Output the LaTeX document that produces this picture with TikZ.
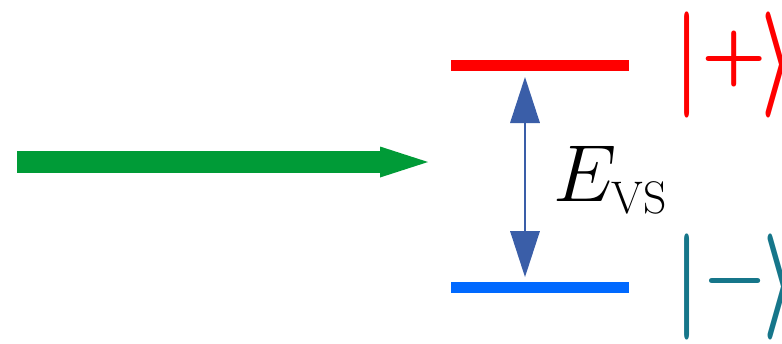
\RequirePackage{fix-cm}
\documentclass[tikz,border=0pt]{standalone}
\usetikzlibrary{arrows.meta}
\definecolor{pumpgreen}{RGB}{0,155,55}
\definecolor{levelred}{RGB}{255,0,0}
\definecolor{levelblue}{RGB}{0,105,255}
\definecolor{gapblue}{RGB}{58,94,168}
\definecolor{ketteal}{RGB}{22,118,138}
\newcommand{\tallbar}[1]{\scalebox{1}[1.83]{$#1$}}
\newcommand{\ketsign}[1]{\raisebox{1.55pt}{$#1$}\kern-0.7pt}

\begin{document}
\begin{tikzpicture}[x=0.02cm,y=-0.02cm,
  level/.style={line width=0.22cm},
  ket/.style={anchor=west,inner sep=0pt,font=\fontsize{5}{6}\selectfont\boldmath}]
\useasboundingbox (0,0) rectangle (782,343);
% incoming arrow
\coordinate (pump-a) at (17,162);
\coordinate (pump-b) at (428,162);
\draw[pumpgreen,line width=0.44cm,-{Triangle[length=0.96cm,width=0.62cm,line width=0pt]}] (pump-a) -- (pump-b);
% the two levels
\coordinate (up-l) at (451,65);  \coordinate (up-r) at (629,65);
\coordinate (lo-l) at (451,287); \coordinate (lo-r) at (629,287);
\draw[level,levelred] (up-l) -- (up-r);
\draw[level,levelblue] (lo-l) -- (lo-r);
% splitting
\coordinate (gap-t) at (525,77);
\coordinate (gap-b) at (525,277);
\draw[gapblue,line width=0.6pt,{Triangle[length=0.92cm,width=0.6cm,line width=0pt]}-{Triangle[length=0.92cm,width=0.6cm,line width=0pt]}] (gap-t) -- (gap-b);
\node[anchor=base west,inner sep=0pt,font=\fontsize{46}{52}\selectfont] (evs) at (553,201) {$E_{\hbox{\fontsize{26}{28}\selectfont VS}}$};
% states
\node[ket,text=levelred] (ket-p) at (673,65) {\scalebox{6.6}{\tallbar{|}\ketsign{+}\tallbar{\rangle}}};
\node[ket,text=ketteal] (ket-m) at (673,287) {\scalebox{6.6}{\tallbar{|}\ketsign{-}\tallbar{\rangle}}};
\end{tikzpicture}
\end{document}
